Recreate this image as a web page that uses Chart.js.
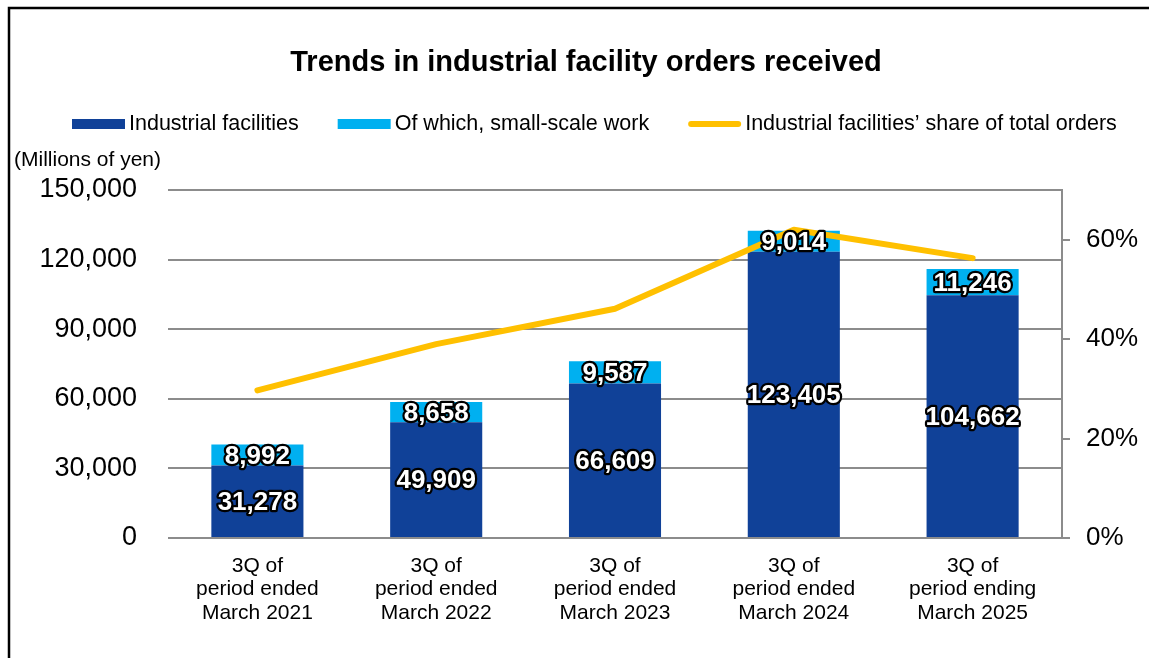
<!DOCTYPE html>
<html>
<head>
<meta charset="utf-8">
<title>Trends in industrial facility orders received</title>
<script src="https://cdn.jsdelivr.net/npm/chart.js@4.4.1/dist/chart.umd.min.js"></script>
<style>
    html, body { margin: 0; padding: 0; background: #fff; }
    #wrap { position: relative; width: 1149px; height: 658px; }
</style>
</head>
<body>
<div id="wrap"><canvas id="ordersChart" width="1149" height="658"></canvas></div>
<script>
// ---------------------------------------------------------------------------
// Data (millions of yen, share in %)
// ---------------------------------------------------------------------------
const categories = [
    ["3Q of", "period ended", "March 2021"],
    ["3Q of", "period ended", "March 2022"],
    ["3Q of", "period ended", "March 2023"],
    ["3Q of", "period ended", "March 2024"],
    ["3Q of", "period ending", "March 2025"],
];
const industrialFacilities = [31278, 49909, 66609, 123405, 104662];
const smallScaleWork = [8992, 8658, 9587, 9014, 11246];
const shareOfTotal = [29.7, 39.0, 46.1, 62.0, 56.3];

const leftTicks = [0, 30000, 60000, 90000, 120000, 150000];
const rightTicks = [0, 20, 40, 60];

const FONT = '"Liberation Sans", Arial, Helvetica, sans-serif';
const GRID = "#8c8c8c";
const NAVY = "#104198";
const CYAN = "#00b0f0";
const GOLD = "#ffc000";

// ---------------------------------------------------------------------------
// Plugins
// ---------------------------------------------------------------------------
const whiteBg = {
    id: "whiteBg",
    beforeDraw(chart) {
        const ctx = chart.ctx;
        ctx.save();
        ctx.fillStyle = "#fff";
        ctx.fillRect(0, 0, chart.width, chart.height);
        ctx.restore();
    },
};

// White bold numbers with black outline, centred on each bar segment
const barLabels = {
    id: "barLabels",
    afterDatasetsDraw(chart) {
        const ctx = chart.ctx;
        ctx.save();
        ctx.font = `bold 26px ${FONT}`;
        ctx.textAlign = "center";
        ctx.textBaseline = "middle";
        ctx.lineJoin = "round";
        chart.data.datasets.forEach((ds, di) => {
            if (ds.type === "line") return;
            const meta = chart.getDatasetMeta(di);
            meta.data.forEach((bar, i) => {
                const txt = ds.data[i].toLocaleString("en-US");
                const cy = (bar.y + bar.base) / 2 + 1.5;
                ctx.lineWidth = 4.5;
                ctx.strokeStyle = "#000";
                ctx.strokeText(txt, bar.x, cy);
                ctx.fillStyle = "#fff";
                ctx.fillText(txt, bar.x, cy);
            });
        });
        ctx.restore();
    },
};

// Frame, title, legend and unit label
const header = {
    id: "header",
    afterDraw(chart) {
        const ctx = chart.ctx;
        ctx.save();

        // frame (only left and top are visible in the crop)
        ctx.strokeStyle = "#000";
        ctx.lineWidth = 2.5;
        ctx.beginPath();
        ctx.moveTo(9, chart.height);
        ctx.lineTo(9, 8);
        ctx.lineTo(chart.width, 8);
        ctx.stroke();

        // title
        ctx.fillStyle = "#000";
        ctx.font = `bold 29px ${FONT}`;
        ctx.textAlign = "center";
        ctx.textBaseline = "middle";
        ctx.fillText("Trends in industrial facility orders received", 586, 63);

        // legend
        ctx.font = `21.5px ${FONT}`;
        ctx.textAlign = "left";
        let x = 72;
        const y = 124;
        chart.data.datasets.forEach((ds) => {
            if (ds.type === "line") {
                ctx.strokeStyle = ds.borderColor;
                ctx.lineWidth = 6;
                ctx.lineCap = "round";
                ctx.beginPath();
                ctx.moveTo(x + 3, y);
                ctx.lineTo(x + 50, y);
                ctx.stroke();
            } else {
                ctx.fillStyle = ds.backgroundColor;
                ctx.fillRect(x, y - 5, 53, 10);
            }
            x += 57;
            ctx.fillStyle = "#000";
            ctx.fillText(ds.label, x, y);
            x += ctx.measureText(ds.label).width + 39;
        });

        // unit
        ctx.font = `21px ${FONT}`;
        ctx.fillText("(Millions of yen)", 14, 160);
        ctx.restore();
    },
};

// ---------------------------------------------------------------------------
// Chart
// ---------------------------------------------------------------------------
new Chart(document.getElementById("ordersChart"), {
    type: "bar",
    data: {
        labels: categories,
        datasets: [
            {
                label: "Industrial facilities",
                data: industrialFacilities,
                backgroundColor: NAVY,
                stack: "orders",
                order: 1,
            },
            {
                label: "Of which, small-scale work",
                data: smallScaleWork,
                backgroundColor: CYAN,
                stack: "orders",
                order: 1,
            },
            {
                type: "line",
                label: "Industrial facilities\u2019 share of total orders",
                data: shareOfTotal,
                yAxisID: "y1",
                borderColor: GOLD,
                backgroundColor: GOLD,
                borderWidth: 6,
                borderCapStyle: "round",
                borderJoinStyle: "round",
                pointRadius: 0,
                tension: 0,
                order: 0,
            },
        ],
    },
    options: {
        responsive: false,
        animation: false,
        devicePixelRatio: 1,
        layout: { padding: { top: 190, left: 0, right: 0, bottom: 0 } },
        datasets: { bar: { categoryPercentage: 1, barPercentage: 0.515 } },
        plugins: {
            legend: { display: false },
            title: { display: false },
            tooltip: { enabled: false },
        },
        scales: {
            x: {
                stacked: true,
                grid: { display: false },
                border: { display: false },
                afterFit(scale) { scale.height = 120; },
                ticks: {
                    color: "#000",
                    font: { family: FONT, size: 21, lineHeight: 1.12 },
                    padding: 8,
                    maxRotation: 0,
                    autoSkip: false,
                },
            },
            y: {
                stacked: true,
                position: "left",
                min: leftTicks[0],
                max: leftTicks[leftTicks.length - 1],
                afterFit(scale) { scale.width = 168; },
                afterBuildTicks(scale) { scale.ticks = leftTicks.map(v => ({ value: v })); },
                grid: { color: GRID, lineWidth: 2, drawTicks: false },
                border: { display: false },
                ticks: {
                    color: "#000",
                    font: { family: FONT, size: 27 },
                    padding: 31,
                    callback: v => v.toLocaleString("en-US"),
                },
            },
            y1: {
                position: "right",
                min: 0,
                max: 70,
                afterFit(scale) { scale.width = 87; },
                afterBuildTicks(scale) { scale.ticks = rightTicks.map(v => ({ value: v })); },
                grid: { drawOnChartArea: false, drawTicks: true, tickLength: 8, color: GRID, lineWidth: 2 },
                border: { display: true, color: GRID, width: 2 },
                ticks: {
                    color: "#000",
                    font: { family: FONT, size: 26 },
                    padding: 16,
                    callback: v => v + "%",
                },
            },
        },
    },
    plugins: [whiteBg, barLabels, header],
});
</script>
</body>
</html>
